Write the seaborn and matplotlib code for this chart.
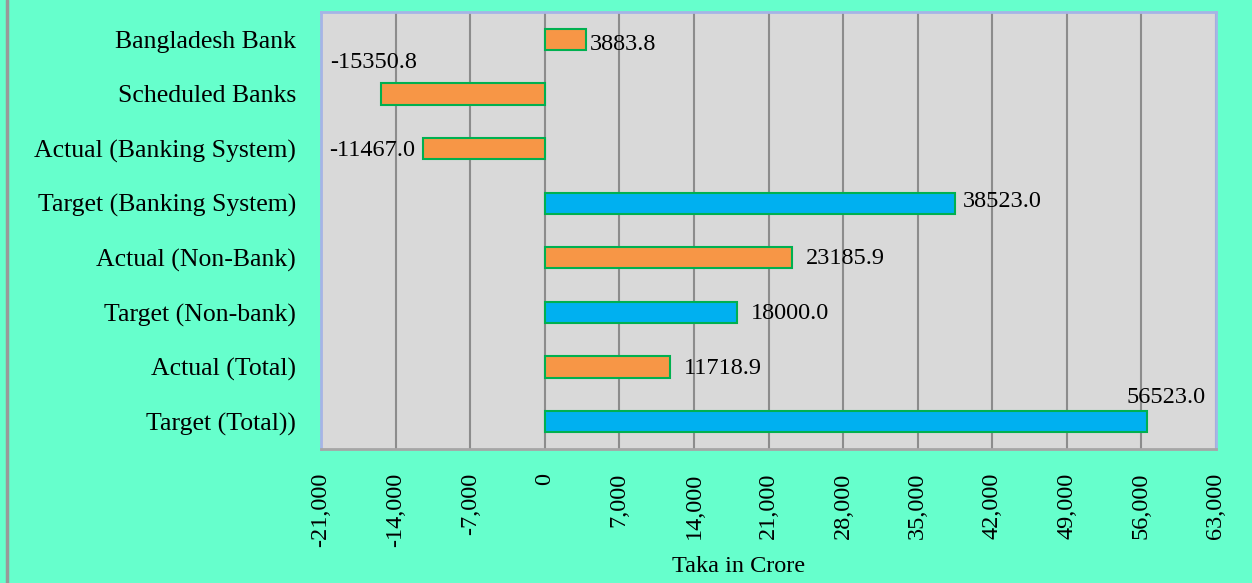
import matplotlib
matplotlib.use("Agg")
import matplotlib.pyplot as plt
import matplotlib.ticker as mticker
import seaborn as sns
import pandas as pd

categories = ["Bangladesh Bank", "Scheduled Banks", "Actual (Banking System)",
              "Target (Banking System)", "Actual (Non-Bank)", "Target (Non-bank)",
              "Actual (Total)", "Target (Total))"]
values = [3883.8, -15350.8, -11467.0, 38523.0, 23185.9, 18000.0, 11718.9, 56523.0]
kinds = ["Actual", "Actual", "Actual", "Target", "Actual", "Target", "Actual", "Target"]
x_ticks = list(range(-21000, 63001, 7000))
x_label = "Taka in Crore"

df = pd.DataFrame({"cat": categories, "val": values, "kind": kinds})

sns.set_style("white")
plt.rcParams['font.family'] = ['Liberation Serif', 'DejaVu Serif']
plt.rcParams['text.color'] = 'black'
plt.rcParams['xtick.color'] = 'black'
plt.rcParams['ytick.color'] = 'black'
plt.rcParams['axes.labelcolor'] = 'black'

FS = 17.5
bg = "#66FFCC"
fig = plt.figure(figsize=(12.52, 5.83), dpi=100, facecolor=bg)
ax = fig.add_axes([321/1252, 1-449/583, (1216-321)/1252, (449-12)/583])
ax.set_facecolor("#D9D9D9")

sns.barplot(data=df, x="val", y="cat", hue="kind", orient="h", dodge=False,
            palette={"Actual": "#F79646", "Target": "#00B0F0"}, width=0.39,
            saturation=1, edgecolor="#00B050", linewidth=1.5, ax=ax,
            legend=False, zorder=3)

ax.set_xlim(-21000, 63000)
ax.set_xticks(x_ticks)
ax.xaxis.set_major_formatter(mticker.FuncFormatter(lambda v, p: f"{int(v):,}"))
ax.grid(axis="x", color="#8C8C8C", linewidth=1.5, zorder=0)
ax.set_axisbelow(True)
ax.tick_params(axis="x", labelrotation=90, labelsize=FS, length=0, pad=17,
               labelcolor="black")
ax.tick_params(axis="y", labelsize=18.5, length=0, pad=18, labelcolor="black")
for lab in ax.get_xticklabels():
    lab.set_va("top")
ax.set_ylabel("")
ax.set_xlabel(x_label, fontsize=FS, va="center", color="black")
ax.xaxis.set_label_coords(0.466, -(567 - 449) / 437)

for side in ["top", "right", "left"]:
    ax.spines[side].set_color("#A6B4E6")
    ax.spines[side].set_linewidth(2)
ax.spines["bottom"].set_color("#A6A6A6")
ax.spines["bottom"].set_linewidth(2)

# data labels
px = (63000 - -21000) / 895.0
kw = dict(va="center", fontsize=FS, color="black")
for i, v in enumerate(values):
    txt = f"{v:.1f}"
    if i == 1:
        ax.text(v - 700, i - 0.57, txt, ha="center", **kw)
    elif i == 2:
        ax.text(v - 7 * px, i + 0.03, txt, ha="right", **kw)
    elif i == 7:
        ax.text(v + 1760, i - 0.44, txt, ha="center", **kw)
    elif i == 0:
        ax.text(v + 4 * px, i + 0.09, txt, ha="left", **kw)
    elif i == 3:
        ax.text(v + 8 * px, i - 0.04, txt, ha="left", **kw)
    else:
        ax.text(v + 14 * px, i + 0.02, txt, ha="left", **kw)

fig.add_artist(plt.Line2D([7/1252, 7/1252], [0, 1], color="#999999", linewidth=2.5,
                          transform=fig.transFigure))

fig.savefig("out.png", dpi=100, facecolor=bg)
